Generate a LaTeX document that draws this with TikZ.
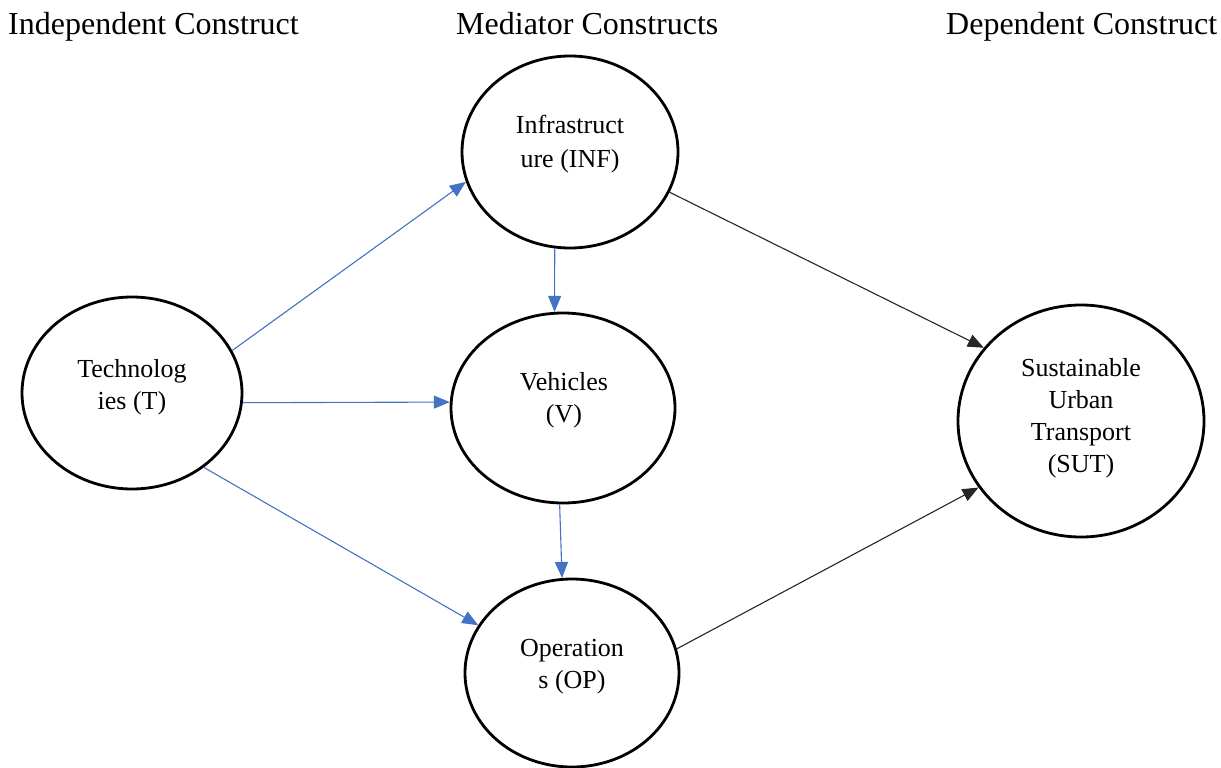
\documentclass[tikz,border=0pt]{standalone}
\usepackage{fontspec}
\setmainfont{Liberation Serif}
\usetikzlibrary{shapes.geometric,arrows.meta}
\definecolor{linkblue}{RGB}{68,114,196}
\tikzset{
  construct/.style={ellipse,draw=black,line width=2.8pt,fill=white,inner sep=0pt},
  caption/.style={font=\fontsize{26}{32}\selectfont,align=center,inner sep=0pt},
  heading/.style={font=\fontsize{32}{36}\selectfont,anchor=base west,inner sep=0pt},
  bluelink/.style={draw=linkblue,line width=1.1pt,-{Triangle[length=16pt,width=13pt]},color=linkblue},
  blacklink/.style={draw=black!85,line width=1.1pt,-{Triangle[length=16pt,width=13pt]}}
}
\begin{document}
\begin{tikzpicture}[x=1pt,y=-1pt]
\useasboundingbox (0,0) rectangle (1221,768);
\fill[white] (0,0) rectangle (1221,768);

% column headings
\node[heading] (h1) at (8,35) {Independent Construct};
\node[heading] (h2) at (456,35) {Mediator Constructs};
\node[heading] (h3) at (946,35) {Dependent Construct};

% constructs
\node[construct,minimum width=220pt,minimum height=192pt] (T)   at (132,393) {};
\node[construct,minimum width=216pt,minimum height=192pt] (INF) at (570,152) {};
\node[construct,minimum width=224pt,minimum height=190pt] (V)   at (563,408) {};
\node[construct,minimum width=214pt,minimum height=188pt] (OP)  at (572,673) {};
\node[construct,minimum width=246pt,minimum height=232pt] (SUT) at (1081,421) {};

% construct names
\node[caption] (tT)   at (132,387)  {Technolog\\ies (T)};
\node[caption,font=\fontsize{26}{34}\selectfont] (tINF) at (570,144) {Infrastruct\\ure (INF)};
\node[caption] (tV)   at (564,400)  {Vehicles\\(V)};
\node[caption] (tOP)  at (572,667)  {Operation\\s (OP)};
\node[caption] (tSUT) at (1081,418) {Sustainable\\Urban\\Transport\\(SUT)};

% paths
\draw[bluelink] (T.23) -- (INF.196);
\draw[bluelink] (T.-5) -- (V.177);
\draw[bluelink] (T.-46) -- (OP.153);
\draw[bluelink] (INF.261) -- (V.95);
\draw[bluelink] (V.268) -- (OP.96);
\draw[blacklink] (INF.-22.4) -- (SUT.143);
\draw[blacklink] (OP.13.4) -- (SUT.213);
\end{tikzpicture}
\end{document}
